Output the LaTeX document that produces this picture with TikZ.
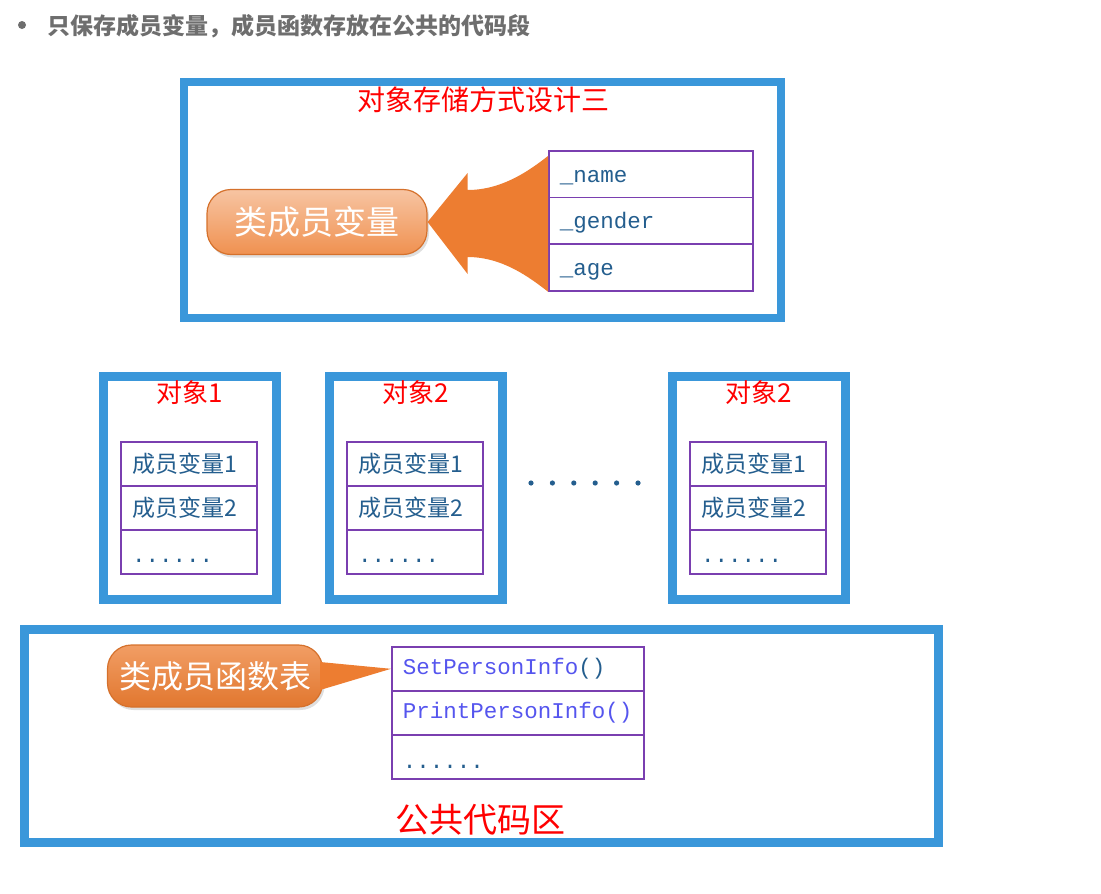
\documentclass[tikz,border=0pt]{standalone}
\usepackage{fontspec}
\setmainfont{Noto Sans CJK SC}
\newfontfamily\monofnt{Liberation Mono}
\usetikzlibrary{positioning,shadows}
\definecolor{frameblue}{HTML}{3A97DA}
\definecolor{cellviolet}{HTML}{7A3FB0}
\definecolor{membertxt}{HTML}{245E8E}
\definecolor{functxt}{HTML}{5555EE}
\definecolor{pillorange}{HTML}{ED7D31}
\definecolor{headgrey}{HTML}{6E6E6E}

\begin{document}
\begin{tikzpicture}[x=1pt,y=-1pt,
	frame/.style={draw=frameblue,line width=8.5pt,inner sep=0pt},
	cell/.style={draw=cellviolet,line width=1.6pt,align=left,inner xsep=11pt,minimum height=44pt,text=membertxt,font=\fontsize{23}{25}\selectfont},
	monocell/.style={cell,font=\monofnt\fontsize{22.5}{24}\selectfont},
	redtitle/.style={text=red,font=\fontsize{26}{28}\selectfont},
	pill/.style={rounded corners=24pt,draw=pillorange!90!black,line width=1.2pt,text=white,font=\fontsize{32}{34}\selectfont,drop shadow={opacity=.25,shadow xshift=2pt,shadow yshift=-3pt}}]
	\useasboundingbox (0,0) rectangle (1101,894);
	\fill[headgrey] (22,25) circle (4);
	\node[anchor=west,text=headgrey,font=\bfseries\fontsize{23}{25}\selectfont] (head) at (44,26) {只保存成员变量，成员函数存放在公共的代码段};

	\node[frame,minimum width=597pt,minimum height=236pt] (store) at (482.5,200) {};
	\node[redtitle,font=\fontsize{28}{30}\selectfont] (storetitle) at (483,100) {对象存储方式设计三};
	\node[monocell,text width=182pt,minimum height=46.7pt,anchor=north west] (na) at (548,150) {\raisebox{-8pt}[0pt][0pt]{\_name}};
	\node[monocell,text width=182pt,minimum height=46.7pt,below=-1.6pt of na] (nb) {\raisebox{-8pt}[0pt][0pt]{\_gender}};
	\node[monocell,text width=182pt,minimum height=46.7pt,below=-1.6pt of nb] (nc) {\raisebox{-8pt}[0pt][0pt]{\_age}};
	\node[pill,top color=pillorange!45,bottom color=pillorange!85,minimum width=220pt,minimum height=65pt,font=\fontsize{33}{35}\selectfont] (vm) at (317,222) {类成员变量};
	\fill[pillorange] (vm.east) -- ++(40,-49) -- ++(0,17) .. controls +(35,0) and +(-18,14) .. ([yshift=-6pt]na.north west) -- (nc.south west) .. controls +(-18,-14) and +(35,0) .. ([shift={(40,35)}]vm.east) -- ++(0,17) -- cycle;

	\foreach \i/\x/\t in {1/190/对象1,2/416/对象2,3/759/对象2}{
		\node[frame,minimum width=173pt,minimum height=223pt] (obj\i) at (\x,488) {};
		\node[redtitle] (t\i) at (\x,393) {\t};
		\node[cell,text width=114pt,anchor=north] (oa\i) at (\x-1,441) {成员变量1};
		\node[cell,text width=114pt,below=-1.6pt of oa\i] (ob\i) {成员变量2};
		\node[monocell,text width=114pt,below=-1.6pt of ob\i] (oc\i) {\raisebox{-11pt}[0pt][0pt]{......}};
	}
	\foreach \k in {0,...,5}
		\fill[membertxt] (531+\k*21.4,483) circle (2.6);

	\node[frame,minimum width=914pt,minimum height=213pt] (code) at (481.5,736) {};
	\node[monocell,text=functxt,text width=230pt,anchor=north west] (fa) at (391,646) {SetPersonInfo\textcolor{membertxt}{()}};
	\node[monocell,text=functxt,text width=230pt,below=-1.6pt of fa] (fb) {PrintPersonInfo()};
	\node[monocell,text width=230pt,below=-1.6pt of fb] (fc) {\raisebox{-12pt}[0pt][0pt]{......}};
	\node[pill,top color=pillorange!75,bottom color=pillorange!95!black,minimum width=215pt,minimum height=62pt] (fn) at (215,676) {类成员函数表};
	\fill[pillorange] ([shift={(-3,-14)}]fn.east) -- (fa.west) -- ([shift={(-3,14)}]fn.east) -- cycle;
	\node[redtitle,font=\fontsize{34}{36}\selectfont] (codetitle) at (480,820) {公共代码区};
\end{tikzpicture}
\end{document}
